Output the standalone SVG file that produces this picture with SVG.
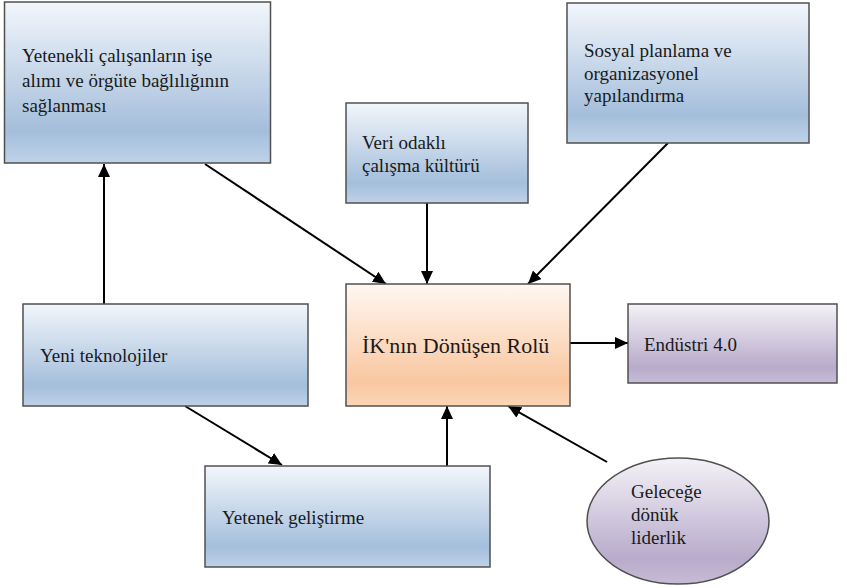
<svg xmlns="http://www.w3.org/2000/svg" width="847" height="588" viewBox="0 0 847 588">
<defs>
<linearGradient id="gBlue" x1="0" y1="0" x2="0" y2="1">
<stop offset="0" stop-color="#f2f6fb"/>
<stop offset="0.8" stop-color="#a4bedb"/>
<stop offset="1" stop-color="#bfd2e8"/>
</linearGradient>
<linearGradient id="gOrange" x1="0" y1="0" x2="0" y2="1">
<stop offset="0" stop-color="#fff8f2"/>
<stop offset="0.8" stop-color="#f9c7a0"/>
<stop offset="1" stop-color="#fbd6b8"/>
</linearGradient>
<linearGradient id="gPurple" x1="0" y1="0" x2="0" y2="1">
<stop offset="0" stop-color="#f4f2f7"/>
<stop offset="0.8" stop-color="#b8abcb"/>
<stop offset="1" stop-color="#c7bcd7"/>
</linearGradient>
<marker id="arr" markerUnits="userSpaceOnUse" markerWidth="14" markerHeight="12" refX="13" refY="6" orient="auto">
<path d="M0,0 L13,6 L0,12 Z" fill="#000"/>
</marker>
</defs>
<style>
.box{stroke:#505050;stroke-width:1.5}
.blue{fill:url(#gBlue)}
.t{font-family:'Liberation Serif','Tinos','Times New Roman','DejaVu Serif',serif;font-size:19px;fill:#1a1a1a}
.big{font-size:22px}
.c{stroke:#000;stroke-width:2;fill:none;marker-end:url(#arr)}
</style>
<g id="connectors">
<line class="c" x1="104" y1="304" x2="104" y2="164"/>
<line class="c" x1="205" y1="164" x2="386" y2="284"/>
<line class="c" x1="427" y1="203" x2="427" y2="284"/>
<line class="c" x1="668" y1="143" x2="528" y2="284"/>
<line class="c" x1="570" y1="343" x2="628" y2="343"/>
<line class="c" x1="185" y1="406" x2="282" y2="465"/>
<line class="c" x1="447" y1="466" x2="447" y2="406"/>
<line class="c" x1="607" y1="462" x2="508" y2="406"/>
</g>
<g id="n1">
<rect class="box blue" x="4.5" y="2" width="266" height="161"/>
<text class="t" x="22" y="62">Yetenekli çalışanların işe</text>
<text class="t" x="22" y="87">alımı ve örgüte bağlılığının</text>
<text class="t" x="22" y="112">sağlanması</text>
</g>
<g id="n2">
<rect class="box blue" x="567" y="3" width="242" height="140"/>
<text class="t" x="584" y="57">Sosyal planlama ve</text>
<text class="t" x="584" y="80">organizasyonel</text>
<text class="t" x="584" y="102">yapılandırma</text>
</g>
<g id="n3">
<rect class="box blue" x="346" y="103" width="182" height="100"/>
<text class="t" x="362" y="149">Veri odaklı</text>
<text class="t" x="362" y="172">çalışma kültürü</text>
</g>
<g id="n4">
<rect class="box" fill="url(#gOrange)" x="346" y="284" width="224" height="122"/>
<text class="t big" x="362" y="353">İK'nın Dönüşen Rolü</text>
</g>
<g id="n5">
<rect class="box" fill="url(#gPurple)" x="628" y="304" width="209" height="79"/>
<text class="t" x="644" y="351">Endüstri 4.0</text>
</g>
<g id="n6">
<rect class="box blue" x="23" y="304" width="285" height="102"/>
<text class="t" x="40" y="362">Yeni teknolojiler</text>
</g>
<g id="n7">
<rect class="box blue" x="205" y="466" width="285" height="101"/>
<text class="t" x="222" y="524">Yetenek geliştirme</text>
</g>
<g id="n8">
<ellipse class="box" fill="url(#gPurple)" cx="678" cy="521" rx="91" ry="63"/>
<text class="t" x="631" y="498">Geleceğe</text>
<text class="t" x="631" y="521">dönük</text>
<text class="t" x="631" y="544">liderlik</text>
</g>
</svg>
